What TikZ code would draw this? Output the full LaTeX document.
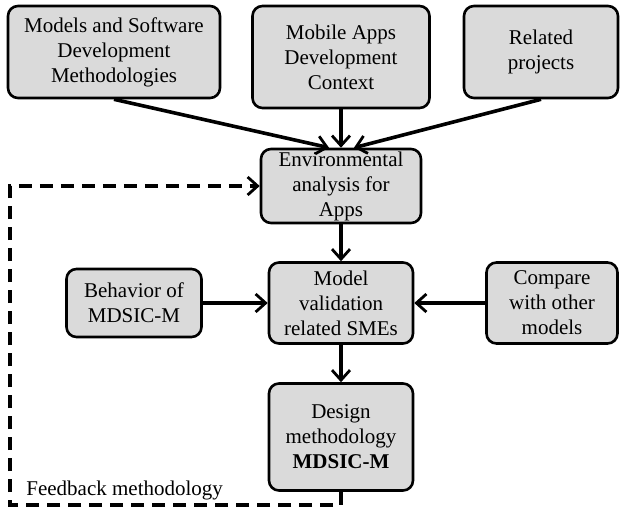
\documentclass[tikz,border=0pt]{standalone}
\usepackage{fontspec}
\setmainfont{Liberation Serif}
\usetikzlibrary{arrows.meta}
\definecolor{boxgray}{RGB}{218,218,218}
\begin{document}
\begin{tikzpicture}[x=0.5pt,y=-0.5pt,
  box/.style={draw=black, line width=1.3pt, rounded corners=5pt, fill=boxgray, align=center,
    font=\fontsize{10.5}{12.5}\selectfont, inner sep=0pt},
  tip/.style={-{Straight Barb[length=5pt,width=9pt,line width=1.4pt]}},
  arr/.style={line width=1.8pt, tip},
  fb/.style={line width=1.8pt, dash pattern=on 6.5pt off 4pt}]
\fill[white] (0,0) rectangle (621,510);
\useasboundingbox (0,0) rectangle (621,510);
\node[box, minimum width=106pt, minimum height=46pt] (msd) at (114,52) {Models and Software\\Development\\Methodologies};
\node[box, minimum width=88.5pt, minimum height=51pt] (mad) at (341,57) {Mobile Apps\\Development\\Context};
\node[box, minimum width=77pt, minimum height=46pt] (rp) at (541,52) {Related\\projects};
\node[box, minimum width=80pt, minimum height=37pt] (env) at (341,186) {Environmental\\analysis for\\Apps};
\node[box, minimum width=72pt, minimum height=40.5pt] (mv) at (341,303) {Model\\validation\\related SMEs};
\node[box, minimum width=67.5pt, minimum height=34pt] (beh) at (134,303) {Behavior of\\MDSIC-M};
\node[box, minimum width=65.5pt, minimum height=40.5pt] (cmp) at (552,303) {Compare\\with other\\models};
\node[box, minimum width=72pt, minimum height=53.5pt] (dm) at (341,437) {Design\\methodology\\\textbf{MDSIC-M}};
\node[anchor=west, font=\fontsize{10.5}{12.5}\selectfont, inner sep=0pt] (fbt) at (26,490) {Feedback methodology};
\coordinate (fbl) at (10,505);

\draw[arr] (msd.south) -- ([xshift=-6pt]env.north);
\draw[arr] (mad.south) -- (env.north);
\draw[arr] (rp.south) -- ([xshift=6.5pt]env.north);
\draw[arr] (env.south) -- (mv.north);
\draw[arr] (beh.east) -- (mv.west);
\draw[arr] (cmp.west) -- (mv.east);
\draw[arr] (mv.south) -- (dm.north);
\draw[fb, tip] (dm.south) |- (fbl) |- (env.west);
\end{tikzpicture}
\end{document}
